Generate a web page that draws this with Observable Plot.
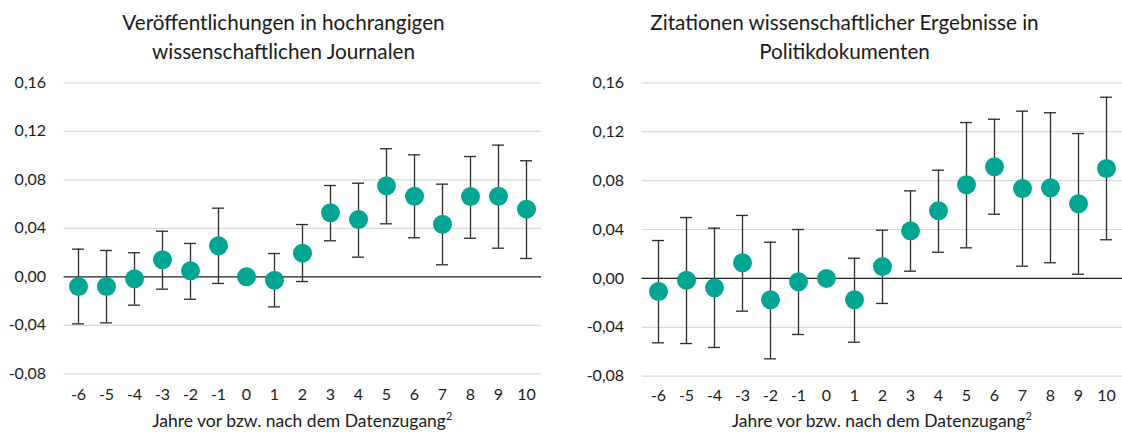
<!DOCTYPE html>
<html>
<head>
<meta charset="utf-8">
<script src="https://cdn.jsdelivr.net/npm/d3@7"></script>
<script src="https://cdn.jsdelivr.net/npm/@observablehq/plot@0.6"></script>
<style>
  html, body { margin: 0; padding: 0; background: #fff; }
  body { width: 1122px; height: 435px; overflow: hidden; font-family: Lato, "Open Sans", sans-serif; color: #1a1a1a; }
  #wrap { display: flex; flex-direction: row; }
  .panel { width: 561px; position: relative; }
  .title { height: 64px; box-sizing: border-box; padding-top: 8px; padding-left: 6px; font-size: 20.7px; line-height: 28.5px; text-align: center; white-space: nowrap; overflow: visible; }
  .xlabel { height: 30px; line-height: 31px; font-size: 17.5px; text-align: center; box-sizing: border-box; white-space: nowrap; }
  svg { display: block; }
</style>
</head>
<body>
<div id="wrap"></div>
<script>
const years = [-6, -5, -4, -3, -2, -1, 0, 1, 2, 3, 4, 5, 6, 7, 8, 9, 10];

const pubEst = [-0.008, -0.008, -0.0017, 0.014, 0.005, 0.0256, 0, -0.0028, 0.0195, 0.0528, 0.0473, 0.075, 0.0665, 0.0434, 0.0662, 0.0665, 0.0558];
const pubLo  = [-0.0388, -0.038, -0.0234, -0.0102, -0.0185, -0.0055, null, -0.0248, -0.0039, 0.0297, 0.0162, 0.0437, 0.0322, 0.0099, 0.0318, 0.0236, 0.0151];
const pubHi  = [0.0228, 0.0217, 0.0198, 0.0376, 0.0275, 0.0566, null, 0.0192, 0.0431, 0.0753, 0.0772, 0.1056, 0.1006, 0.0764, 0.0992, 0.1086, 0.0957];

const citEst = [-0.0107, -0.0015, -0.0077, 0.0128, -0.0175, -0.0028, 0, -0.0175, 0.0097, 0.0389, 0.0553, 0.0766, 0.0913, 0.0735, 0.0741, 0.061, 0.0899];
const citLo  = [-0.0527, -0.0533, -0.0565, -0.0268, -0.0658, -0.0459, null, -0.0522, -0.0205, 0.0059, 0.0214, 0.025, 0.0525, 0.01, 0.0128, 0.0034, 0.0316];
const citHi  = [0.031, 0.0498, 0.0411, 0.0515, 0.0296, 0.04, null, 0.0165, 0.0394, 0.0716, 0.0885, 0.1275, 0.1302, 0.1368, 0.1355, 0.1185, 0.1482];

const yTicks = [-0.08, -0.04, 0, 0.04, 0.08, 0.12, 0.16];
const titles = [
  ["Veröffentlichungen in hochrangigen", "wissenschaftlichen Journalen"],
  ["Zitationen wissenschaftlicher Ergebnisse in", "Politikdokumenten"]
];
const xLabel = "Jahre vor bzw. nach dem Datenzugang";

const teal = "#00a693";
const fmt = d => (d < 0 ? "-" : "") + Math.abs(d).toFixed(2).replace(".", ",");

function makeTable(est, lo, hi) {
  return years.map((yr, i) => ({ year: yr, est: est[i], lo: lo[i], hi: hi[i] }));
}

const panels = [
  { data: makeTable(pubEst, pubLo, pubHi), mL: 63.6, mR: 20, mT: 18.3, plotH: 291, mB: 31.7, tickPad: 15 },
  { data: makeTable(citEst, citLo, citHi), mL: 80.6, mR: 0, mT: 18.3, plotH: 293.4, mB: 29.3, tickPad: 13 }
];

const wrap = document.getElementById("wrap");
panels.forEach((p, k) => {
  const panel = document.createElement("div");
  panel.className = "panel";
  const t = document.createElement("div");
  t.className = "title";
  t.innerHTML = titles[k].join("<br>");
  panel.appendChild(t);

  const bars = p.data.filter(d => d.lo != null);
  const chart = Plot.plot({
    width: 561,
    height: p.mT + p.plotH + p.mB,
    marginLeft: p.mL,
    marginRight: p.mR,
    marginTop: p.mT,
    marginBottom: p.mB,
    style: { fontFamily: "Lato, 'Open Sans', sans-serif", fontSize: "16px", color: "#1a1a1a", background: "#fff", overflow: "visible" },
    x: { type: "band", domain: years, padding: 0, tickSize: 0, tickPadding: p.tickPad, label: null },
    y: { domain: [-0.08, 0.16], ticks: yTicks, tickFormat: fmt, tickSize: 0, tickPadding: 18, label: null },
    marks: [
      Plot.ruleY(yTicks.filter(v => v !== 0), { stroke: "#d9d9d9", strokeWidth: 1.2 }),
      Plot.ruleY([0], { stroke: "#1f1f1f", strokeWidth: 1.3 }),
      Plot.ruleX(bars, { x: "year", y1: "lo", y2: "hi", stroke: "#2b2b2b", strokeWidth: 1.3 }),
      Plot.tickY(bars, { x: "year", y: "lo", stroke: "#2b2b2b", strokeWidth: 1.3, insetLeft: 8, insetRight: 8 }),
      Plot.tickY(bars, { x: "year", y: "hi", stroke: "#2b2b2b", strokeWidth: 1.3, insetLeft: 8, insetRight: 8 }),
      Plot.dot(p.data, { x: "year", y: "est", r: 9.5, fill: teal, stroke: null })
    ]
  });
  panel.appendChild(chart);

  const xl = document.createElement("div");
  xl.className = "xlabel";
  xl.style.paddingLeft = p.mL + "px";
  xl.style.paddingRight = p.mR + "px";
  xl.innerHTML = xLabel + "<sup style=\"font-size:11px;vertical-align:7px;line-height:0\">2</sup>";
  panel.appendChild(xl);
  wrap.appendChild(panel);
});
</script>
</body>
</html>
